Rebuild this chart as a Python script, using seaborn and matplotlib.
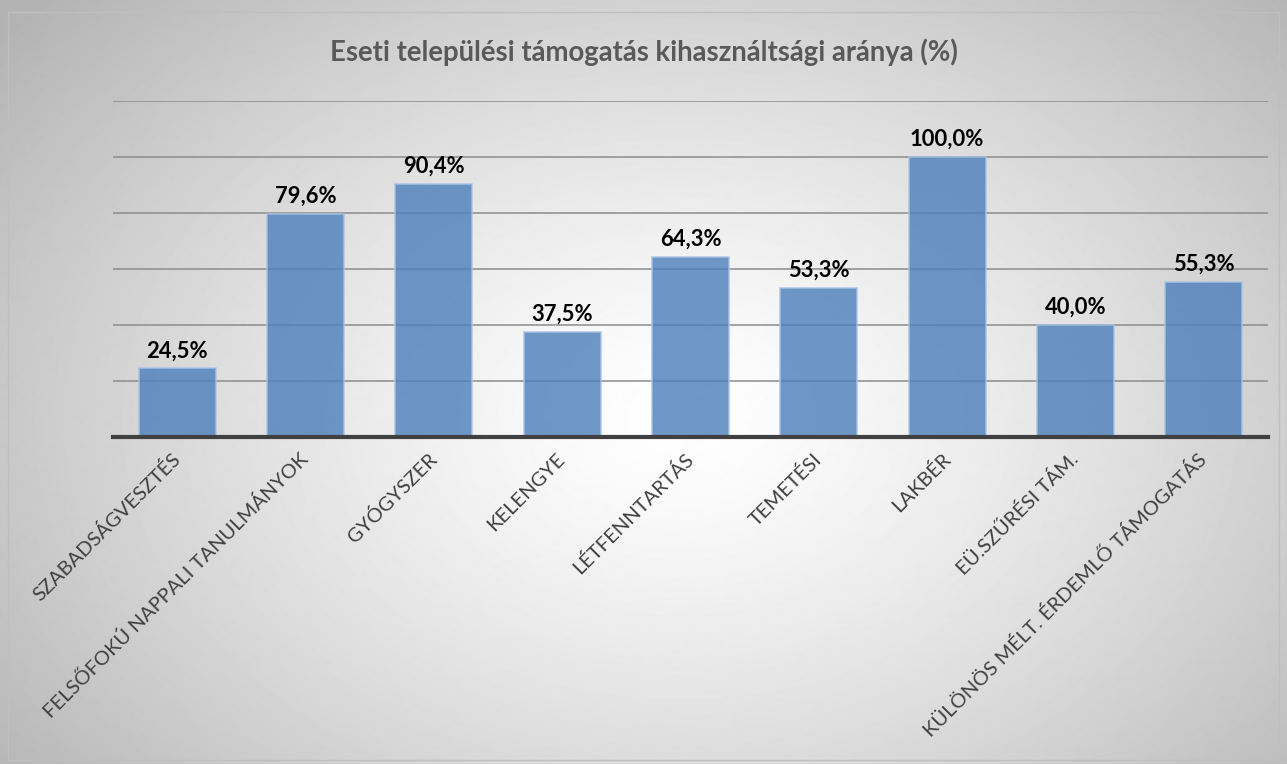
import matplotlib
matplotlib.use("Agg")
import matplotlib.pyplot as plt
import numpy as np
import pandas as pd
import seaborn as sns

categories = [
    "SZABADSÁGVESZTÉS",
    "FELSŐFOKÚ NAPPALI TANULMÁNYOK",
    "GYÓGYSZER",
    "KELENGYE",
    "LÉTFENNTARTÁS",
    "TEMETÉSI",
    "LAKBÉR",
    "EÜ.SZŰRÉSI TÁM.",
    "KÜLÖNÖS MÉLT. ÉRDEMLŐ TÁMOGATÁS",
]
values = [24.5, 79.6, 90.4, 37.5, 64.3, 53.3, 100.0, 40.0, 55.3]
title = "Eseti települési támogatás kihasználtsági aránya (%)"

df = pd.DataFrame({"category": categories, "value": values})

sns.set_theme(style="white")
plt.rcParams["font.family"] = ["Lato", "DejaVu Sans"]

fig = plt.figure(figsize=(12.87, 7.65), dpi=100)

# radial gradient background
bg = fig.add_axes([0, 0, 1, 1], zorder=-10)
yy, xx = np.mgrid[0:765, 0:1287]
r = np.sqrt(((xx - 680) / 780.0) ** 2 + ((yy - 420) / 560.0) ** 2)
shade = 1.0 - 0.26 * np.clip(r, 0, 1.1) ** 1.3
bg.imshow(shade, cmap="gray", vmin=0, vmax=1, aspect="auto", interpolation="bilinear")
bg.plot([8, 1279, 1279, 8, 8], [12, 12, 760, 760, 12], color="#bfbfbf", lw=1)
bg.set_xlim(0, 1287)
bg.set_ylim(765, 0)
bg.axis("off")

ax = fig.add_axes([113 / 1287, 1 - 437 / 765, (1268 - 113) / 1287, (437 - 101) / 765])
ax.patch.set_alpha(0)
sns.barplot(data=df, x="category", y="value", ax=ax, color="#4f81bd", width=0.6,
            saturation=1, alpha=0.82, edgecolor="#a9c4e6", linewidth=1.2, zorder=3)

ax.set_ylim(0, 120)
ax.set_yticks(range(0, 121, 20))
ax.yaxis.grid(True, color="#8c8c8c", lw=1.1, zorder=0)
ax.set_axisbelow(True)
ax.tick_params(axis="y", left=False, labelleft=False)
ax.tick_params(axis="x", bottom=False, pad=8)
for s in ["top", "right", "left"]:
    ax.spines[s].set_visible(False)
ax.spines["bottom"].set_color("#404040")
ax.spines["bottom"].set_linewidth(3)
ax.spines["bottom"].set_zorder(5)
ax.set_xlabel("")
ax.set_ylabel("")
ax.set_xticks(range(len(categories)))
ax.set_xticklabels(categories, rotation=45, ha="right", va="center",
                   rotation_mode="anchor", fontsize=14.5, color="#404040")

for i, v in enumerate(values):
    ax.text(i, v + 2.5, f"{v:.1f}%".replace(".", ","), ha="center", va="bottom",
            fontsize=15.8, fontweight="bold", color="black")

fig.text(0.5, 1 - 52 / 765, title, ha="center", va="center", fontsize=19.8,
         fontweight="bold", color="#595959")

fig.savefig("out.png", dpi=100)
